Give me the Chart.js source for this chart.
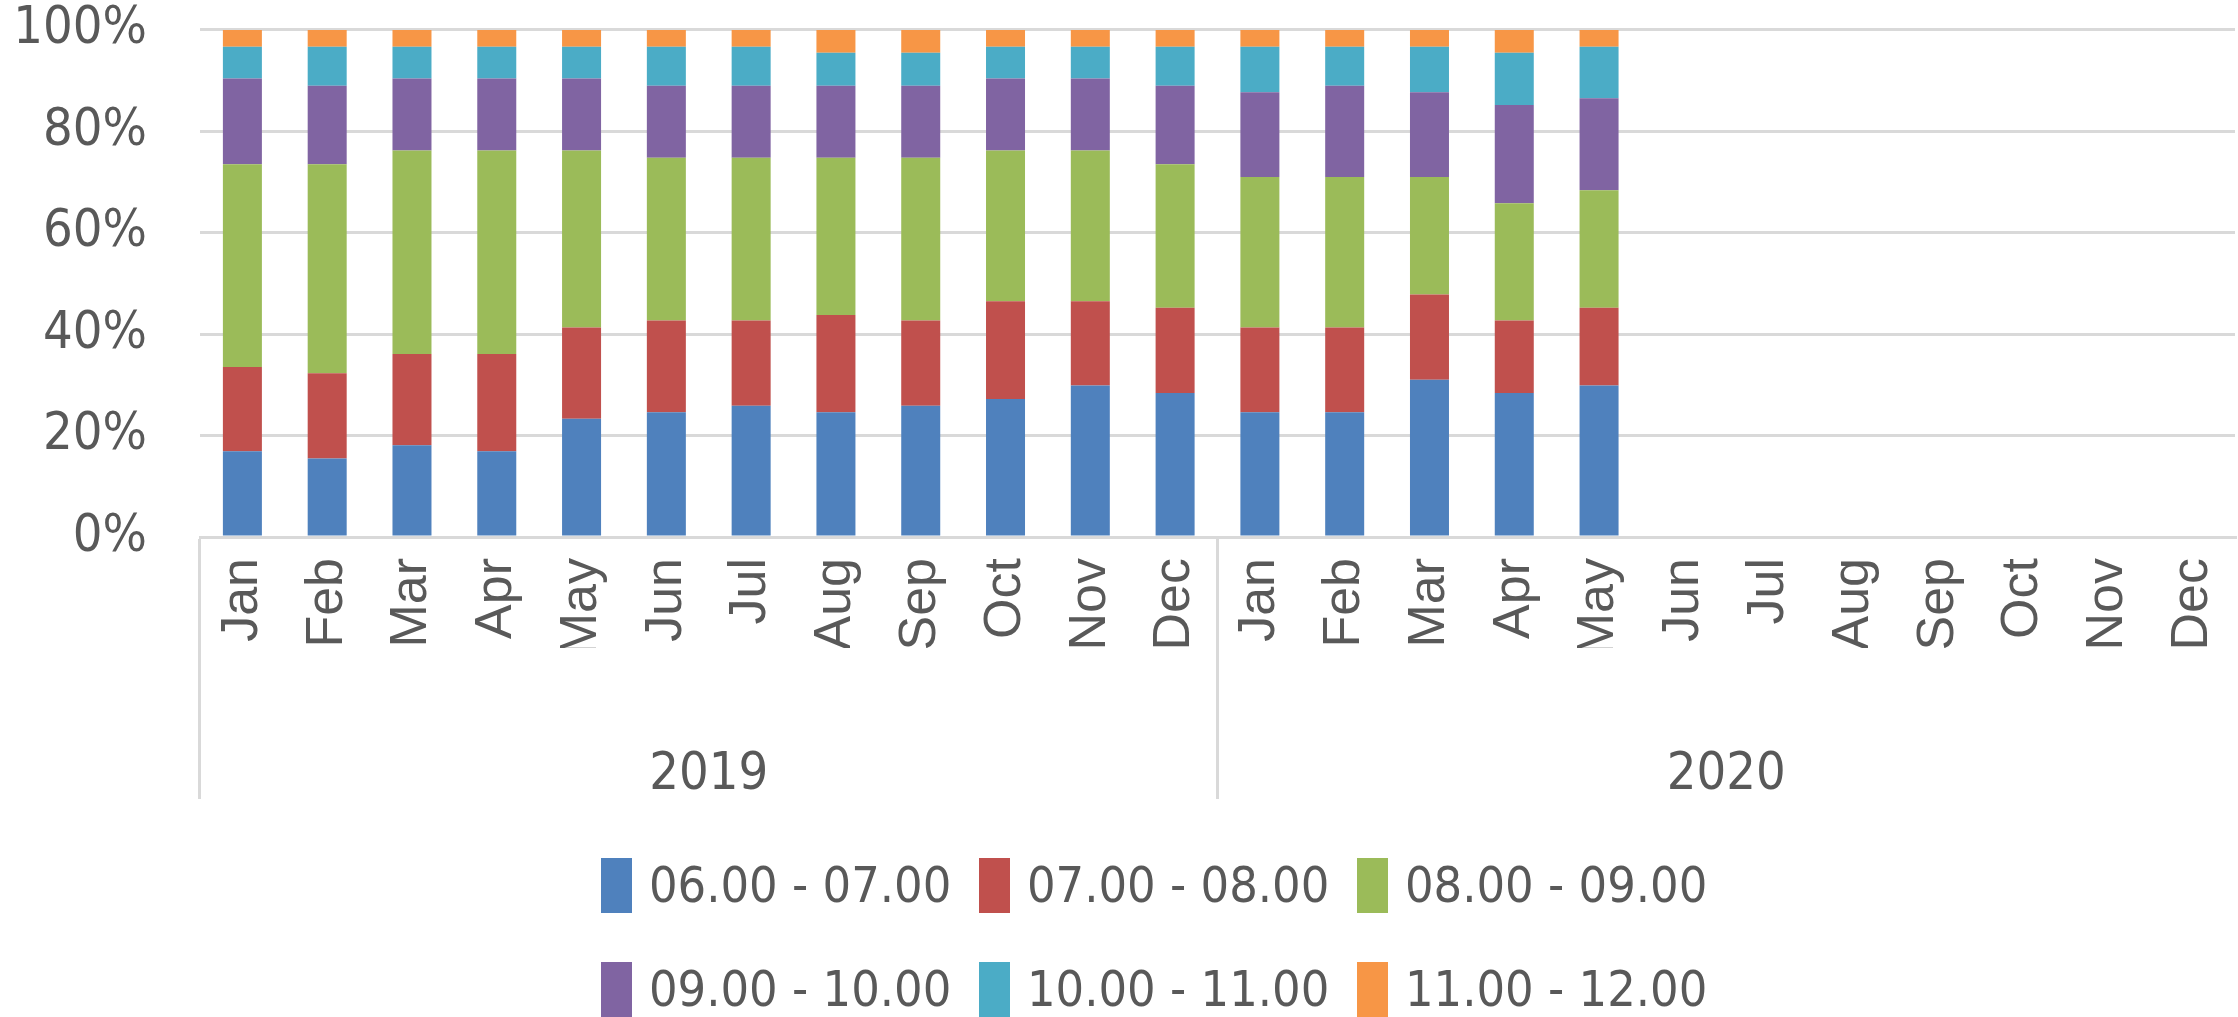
<!DOCTYPE html>
<html>
<head>
<meta charset="utf-8">
<script src="https://cdn.jsdelivr.net/npm/chart.js@4.4.1/dist/chart.umd.min.js"></script>
<style>
  body { margin: 0; background: #fff; width: 2238px; height: 1017px; overflow: hidden; position: relative; }
  #wrap { position: absolute; left: 0; top: 0; width: 2238px; height: 807px; }
  #legend { position: absolute; left: 601px; top: 850px; width: 1200px; }
  .row { display: flex; height: 70px; margin-bottom: 34px; align-items: center; }
  .item { display: flex; align-items: center; width: 378px; flex-shrink: 0; }
  .box { display: block; width: 31px; height: 55px; margin-right: 17px; flex-shrink: 0; }
  .txt { font-family: 'DejaVu Sans Condensed', 'Liberation Sans', sans-serif; font-size: 50px; color: #595959; white-space: nowrap; }
</style>
</head>
<body>
<div id="wrap"><canvas id="chartHours"></canvas></div>
<div id="legend"></div>
<script>
const months = ['Jan', 'Feb', 'Mar', 'Apr', 'May', 'Jun', 'Jul', 'Aug', 'Sep', 'Oct', 'Nov', 'Dec'];
const years = ['2019', '2020'];
const categories = months.concat(months);
const yTicks = [0, 20, 40, 60, 80, 100];

const seriesNames = ['06.00 - 07.00', '07.00 - 08.00', '08.00 - 09.00', '09.00 - 10.00', '10.00 - 11.00', '11.00 - 12.00'];
const seriesColors = ['#4F81BD', '#C0504D', '#9BBB59', '#8064A2', '#4BACC6', '#F79646'];

// percent per month, Jun-Dec 2020 empty
const h06 = [16.9, 15.5, 18.1, 16.9, 23.3, 24.6, 25.9, 24.6, 25.9, 27.2, 29.9, 28.4, 24.6, 24.6, 31.0, 28.4, 29.9, null, null, null, null, null, null, null];
const h07 = [16.6, 16.8, 18.0, 19.2, 18.0, 18.1, 16.8, 19.2, 16.8, 19.3, 16.6, 16.8, 16.7, 16.7, 16.8, 14.3, 15.3, null, null, null, null, null, null, null];
const h08 = [40.0, 41.2, 40.1, 40.1, 34.9, 32.1, 32.1, 31.0, 32.1, 29.7, 29.7, 28.3, 29.7, 29.7, 23.2, 23.1, 23.2, null, null, null, null, null, null, null];
const h09 = [16.9, 15.5, 14.2, 14.2, 14.2, 14.2, 14.2, 14.2, 14.2, 14.2, 14.2, 15.5, 16.7, 18.0, 16.7, 19.4, 18.1, null, null, null, null, null, null, null];
const h10 = [6.3, 7.7, 6.3, 6.3, 6.3, 7.7, 7.7, 6.5, 6.5, 6.3, 6.3, 7.7, 9.0, 7.7, 9.0, 10.3, 10.2, null, null, null, null, null, null, null];
const h11 = [3.3, 3.3, 3.3, 3.3, 3.3, 3.3, 3.3, 4.5, 4.5, 3.3, 3.3, 3.3, 3.3, 3.3, 3.3, 4.5, 3.3, null, null, null, null, null, null, null];
const seriesValues = [h06, h07, h08, h09, h10, h11];

const condensed = "'DejaVu Sans Condensed', 'Liberation Sans', sans-serif";
const gridGrey = '#d9d9d9';
const textGrey = '#595959';

let contextHours = document.querySelector('#chartHours').getContext('2d');

let config = {
    type: 'bar',
    data: {
        labels: categories,
        datasets: seriesNames.map((name, i) => ({
            label: name,
            data: seriesValues[i],
            backgroundColor: seriesColors[i],
            borderWidth: 0,
            categoryPercentage: 1,
            barPercentage: 0.46
        }))
    },
    options: {
        responsive: true,
        maintainAspectRatio: false,
        animation: false,
        layout: { padding: { left: 0, right: 3, top: 0, bottom: 0 } },
        plugins: {
            legend: { display: false },
            tooltip: { enabled: false }
        },
        scales: {
            y: {
                stacked: true,
                min: 0,
                max: 100,
                afterBuildTicks: axis => { axis.ticks = yTicks.map(v => ({ value: v })); },
                afterFit: axis => { axis.width = 200; },
                ticks: {
                    callback: v => v + '%',
                    color: textGrey,
                    padding: 0,
                    font: { family: condensed, size: 52, lineHeight: 1.15 }
                },
                // invisible tick marks give the gap between labels and plot
                grid: { color: gridGrey, lineWidth: 3, drawTicks: true, tickLength: 53, tickColor: 'rgba(0,0,0,0)' },
                border: { display: false }
            },
            x: {
                stacked: true,
                offset: true,
                afterFit: axis => { axis.height = 111; },
                ticks: {
                    autoSkip: false,
                    minRotation: 90,
                    maxRotation: 90,
                    padding: -241,
                    color: textGrey,
                    font: { family: "'Liberation Sans', Arial, sans-serif", size: 52 }
                },
                grid: {
                    offset: true,
                    drawOnChartArea: false,
                    drawTicks: true,
                    tickLength: 262,
                    lineWidth: 3,
                    color: ctx => (ctx.index % months.length === 0) ? gridGrey : 'rgba(0,0,0,0)'
                },
                border: { display: true, color: gridGrey, width: 3 }
            },
            x2: {
                type: 'linear',
                axis: 'x',
                position: 'bottom',
                offset: false,
                min: 0,
                max: categories.length,
                bounds: 'data',
                afterBuildTicks: axis => {
                    axis.ticks = years.map((y, i) => ({ value: (i + 0.5) * months.length }));
                },
                afterFit: axis => { axis.height = 159; },
                ticks: {
                    autoSkip: false,
                    maxRotation: 0,
                    padding: 88,
                    color: textGrey,
                    font: { family: condensed, size: 52 },
                    callback: (v, i) => years[i]
                },
                grid: { display: false },
                border: { display: false }
            }
        }
    }
};

let chartHours = new Chart(contextHours, config);

// legend, 3 items per row like the original
let legendEl = document.querySelector('#legend');
for (let r = 0; r < 2; r++) {
    let row = document.createElement('div');
    row.className = 'row';
    for (let c = 0; c < 3; c++) {
        let i = r * 3 + c;
        let item = document.createElement('div');
        item.className = 'item';
        item.innerHTML = '<span class="box" style="background:' + seriesColors[i] + '"></span><span class="txt">' + seriesNames[i] + '</span>';
        row.appendChild(item);
    }
    legendEl.appendChild(row);
}
</script>
</body>
</html>
